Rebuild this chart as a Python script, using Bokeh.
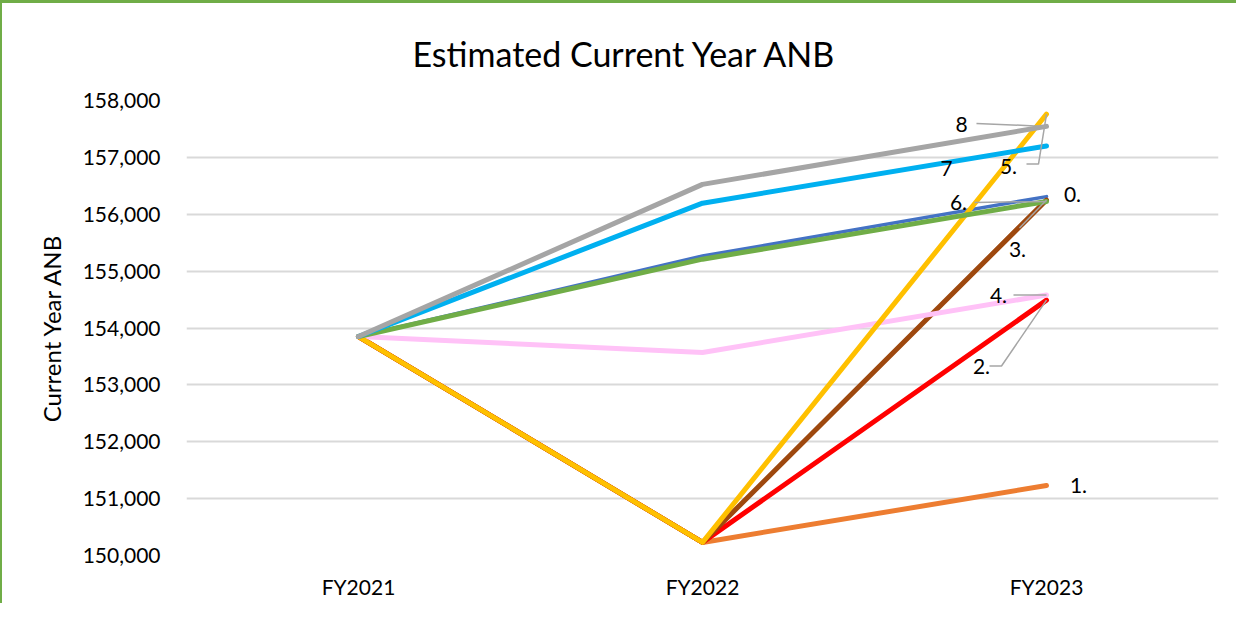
from bokeh.plotting import figure
from bokeh.models import FixedTicker, Range1d, NumeralTickFormatter
from bokeh.core.properties import value
from bokeh.embed import file_html
from bokeh.resources import INLINE

categories = ["FY2021", "FY2022", "FY2023"]
series_names = ["0.", "1.", "2.", "3.", "4.", "5.", "6.", "7", "8"]
s0 = [153850, 155265, 156310]
s1 = [153850, 150230, 151230]
s2 = [153850, 150230, 154490]
s3 = [153850, 150230, 156250]
s4 = [153850, 153570, 154580]
s5 = [153850, 150230, 157760]
s6 = [153850, 155210, 156225]
s7 = [153850, 156195, 157200]
s8 = [153850, 156525, 157545]
series_values = [s0, s1, s2, s3, s4, s5, s6, s7, s8]
colors = ["#4472C4", "#ED7D31", "#FF0000", "#9E480E", "#FFC2F7",
          "#FFC000", "#70AD47", "#00B0F0", "#A5A5A5"]
widths = [3.5, 5, 5, 5, 5, 5, 5, 5, 5]
title_text = "Estimated Current Year ANB"

FONT = "Lato"
W, H = 1236, 603
FL, FR, FT, FB = 184, 20, 96, 51
frame_w = W - FL - FR
frame_h = H - FT - FB
YMIN, YMAX = 150000, 158000
px_x = 3.0 / frame_w
px_y = (YMAX - YMIN) / frame_h

p = figure(width=W, height=H, output_backend="svg", toolbar_location=None,
           x_range=Range1d(0, 3), y_range=Range1d(YMIN, YMAX),
           min_border_left=FL, min_border_right=FR, min_border_top=FT, min_border_bottom=FB)
p.styles = {"border-left": "2px solid #70AD47", "border-top": "3px solid #70AD47"}
p.outline_line_color = None
p.background_fill_color = "white"
p.border_fill_color = "white"

p.title.text = title_text
p.title.align = "left"
p.title.text_font = FONT
p.title.text_font_style = "normal"
p.title.text_font_size = "34px"
p.title.text_color = "#000000"
p.title.offset = 226
p.title.standoff = 54

xs = [i + 0.5 for i in range(len(categories))]
p.xaxis.ticker = FixedTicker(ticks=xs)
p.xaxis.major_label_overrides = {x: c for x, c in zip(xs, categories)}
p.yaxis.ticker = FixedTicker(ticks=list(range(YMIN, YMAX + 1, 1000)))
p.yaxis.formatter = NumeralTickFormatter(format="0,0")
for ax in (p.xaxis[0], p.yaxis[0]):
    ax.axis_line_color = None
    ax.major_tick_line_color = None
    ax.minor_tick_line_color = None
    ax.major_label_text_font = FONT
    ax.major_label_text_font_size = "21px"
    ax.major_label_text_color = "#000000"
p.xaxis.major_label_standoff = 12
p.yaxis.major_label_standoff = 20
p.yaxis.axis_label = "Current Year ANB"
p.yaxis.axis_label_text_font = FONT
p.yaxis.axis_label_text_font_size = "24px"
p.yaxis.axis_label_text_font_style = "normal"
p.yaxis.axis_label_text_color = "#000000"
p.yaxis.axis_label_standoff = 14
p.xgrid.grid_line_color = None
p.ygrid.grid_line_color = "#D9D9D9"
p.ygrid.grid_line_width = 2

for vals, c, w in zip(series_values, colors, widths):
    p.line(xs, vals, line_color=c, line_width=w, line_join="round", line_cap="round")

# label placement: pixel offsets (dx right, dy down) from each series' last point
label_off = {"0.": (26, -2), "1.": (32, 0), "2.": (-65, 67), "3.": (-29, 50),
             "4.": (-48, 0), "5.": (-38, 52), "6.": (-88, 1), "7": (-100, 23),
             "8": (-85, -2)}
# leader lines: pixel offsets from the end point
leaders = {"8": [(-70, -3), (-2, 0)],
           "5.": [(-20, 50), (-8, 50), (0, 0)],
           "6.": [(-72, 1), (0, 0)],
           "3.": [(-27, 28), (0, 0)],
           "4.": [(-33, 0), (0, 0)],
           "2.": [(-57, 66), (-45, 66), (0, 0)]}

last_x = xs[-1]
lx, ly, lt = [], [], []
for name, vals in zip(series_names, series_values):
    dx, dy = label_off[name]
    lx.append(last_x + dx * px_x)
    ly.append(vals[-1] - dy * px_y)
    lt.append(name)
    if name in leaders:
        pts = leaders[name]
        p.line([last_x + a * px_x for a, b in pts], [vals[-1] - b * px_y for a, b in pts],
               line_color="#A6A6A6", line_width=1.5)

p.text(x=lx, y=ly, text=lt, text_font=value(FONT), text_font_size="21px",
       text_color="#000000", text_align="center", text_baseline="middle")

open("out.html", "w").write(file_html(p, INLINE))
